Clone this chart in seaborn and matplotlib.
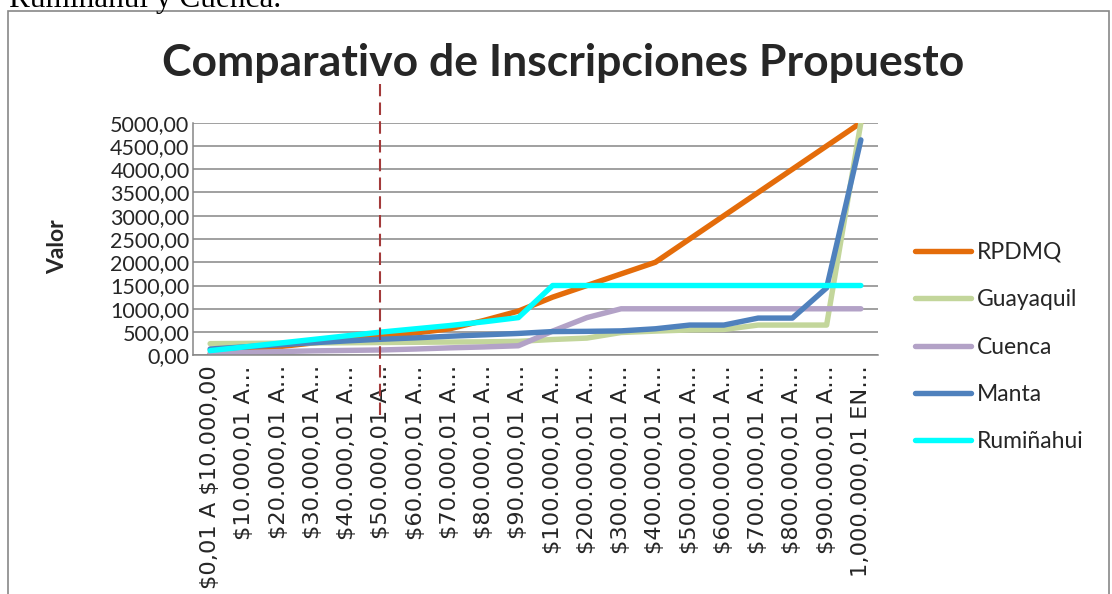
import numpy as np
import pandas as pd
import matplotlib
matplotlib.use("Agg")
import matplotlib.pyplot as plt
from matplotlib.lines import Line2D
from matplotlib.patches import Rectangle
import seaborn as sns

# ---------------- data ----------------
categories = [
    "$0,01 A $10.000,00",
    "$10.000,01 A…", "$20.000,01 A…", "$30.000,01 A…", "$40.000,01 A…",
    "$50.000,01 A…", "$60.000,01 A…", "$70.000,01 A…", "$80.000,01 A…",
    "$90.000,01 A…", "$100.000,01 A…", "$200.000,01 A…", "$300.000,01 A…",
    "$400.000,01 A…", "$500.000,01 A…", "$600.000,01 A…", "$700.000,01 A…",
    "$800.000,01 A…", "$900.000,01 A…", "1,000.000,01 EN…",
]
series_names = ["RPDMQ", "Guayaquil", "Cuenca", "Manta", "Rumiñahui"]
rpdmq = [25, 105, 185, 265, 345, 425, 480, 570, 750, 950,
         1250, 1500, 1750, 2000, 2500, 3000, 3500, 4000, 4500, 5000]
guayaquil = [250, 255, 260, 265, 270, 275, 280, 285, 290, 300,
             340, 370, 490, 520, 545, 555, 650, 650, 650, 5000]
cuenca = [40, 60, 80, 95, 105, 115, 135, 160, 180, 205,
          520, 810, 1000, 1000, 1000, 1000, 1000, 1000, 1000, 1000]
manta = [135, 180, 225, 270, 310, 345, 375, 410, 440, 470,
         510, 515, 525, 570, 650, 650, 800, 800, 1450, 4630]
rumi = [100, 180, 260, 340, 420, 500, 570, 640, 720, 810,
        1500, 1500, 1500, 1500, 1500, 1500, 1500, 1500, 1500, 1500]
yticks = list(range(0, 5001, 500))
marker_category = 4.97  # position of the dashed reference line (category units)

colors = ["#E46C0A", "#C3D69B", "#B3A2C7", "#4F81BD", "#00FFFF"]

# ---------------- style ----------------
sns.set_style("white")
plt.rcParams["text.parse_math"] = False
plt.rcParams["font.family"] = ["Lato", "DejaVu Sans"]

values = [rpdmq, guayaquil, cuenca, manta, rumi]
pos = np.arange(len(categories))
df = pd.concat([
    pd.DataFrame({"pos": pos, "valor": v, "serie": n})
    for n, v in zip(series_names, values)
], ignore_index=True)

W, H = 1112, 594
fig = plt.figure(figsize=(W / 100, H / 100), dpi=100)
fig.patch.set_facecolor("white")

# outer chart border (cropped at the bottom)
fig.add_artist(Rectangle((7.5 / W, -0.05), (1109 - 7.5) / W, 1.05 - 10.5 / H,
                         transform=fig.transFigure, fill=False,
                         edgecolor="#878787", linewidth=1.2))

# cropped document line above the chart
fig.text(9 / W, 1 - 7 / H, "Rumiñahui y Cuenca.", family="Liberation Serif",
         fontsize=22.5, ha="left", va="baseline", color="black")

left, right, top, bottom = 193, 878, 122.7, 355.3
ax = fig.add_axes([left / W, 1 - bottom / H, (right - left) / W, (bottom - top) / H])

sns.lineplot(data=df, x="pos", y="valor", hue="serie", palette=colors,
             hue_order=series_names, ax=ax, legend=False, sort=False,
             linewidth=3.9, solid_capstyle="round", solid_joinstyle="round")

ax.set_xlim(-0.5, len(categories) - 0.5)
ax.set_ylim(0, 5000)
ax.set_yticks(yticks)
ax.set_yticklabels([f"{v},00" for v in yticks], fontsize=15.5)
ax.set_xticks(pos)
ax.set_xticklabels(categories, rotation=90, family="DejaVu Sans",
                   fontsize=16.2, va="top", ha="center")
ax.tick_params(axis="y", length=0, pad=2.5)
ax.tick_params(axis="x", length=0, pad=7)
ax.set_xlabel("")
ax.set_ylabel("")
ax.grid(axis="y", color="#868686", linewidth=1.1)
ax.grid(axis="x", visible=False)
ax.set_axisbelow(True)
for s in ["top", "right"]:
    ax.spines[s].set_visible(False)
for s in ["left", "bottom"]:
    ax.spines[s].set_color("#868686")
    ax.spines[s].set_linewidth(1.1)

# dashed reference line
ax.axvline(marker_category, ymin=(bottom - 415) / (bottom - top),
           ymax=(bottom - 84) / (bottom - top), clip_on=False,
           color="#A33A3A", linewidth=1.5, dashes=(6, 3), zorder=5)

fig.text(563 / W, 1 - 63 / H, "Comparativo de Inscripciones Propuesto",
         ha="center", va="center", fontsize=32, fontweight="bold")
fig.text(58 / W, 1 - 247 / H, "Valor", rotation=90, ha="center", va="center",
         fontsize=16.5, fontweight="bold")

handles = [Line2D([0], [0], color=c, linewidth=3.9, solid_capstyle="round")
           for c in colors]
fig.legend(handles, series_names, loc="upper left",
           bbox_to_anchor=(915 / W, 1 - 242 / H), frameon=False,
           fontsize=16.5, handlelength=2.45, handletextpad=0.25,
           labelspacing=1.15, borderpad=0, borderaxespad=0)

fig.savefig("out.png", dpi=100)
